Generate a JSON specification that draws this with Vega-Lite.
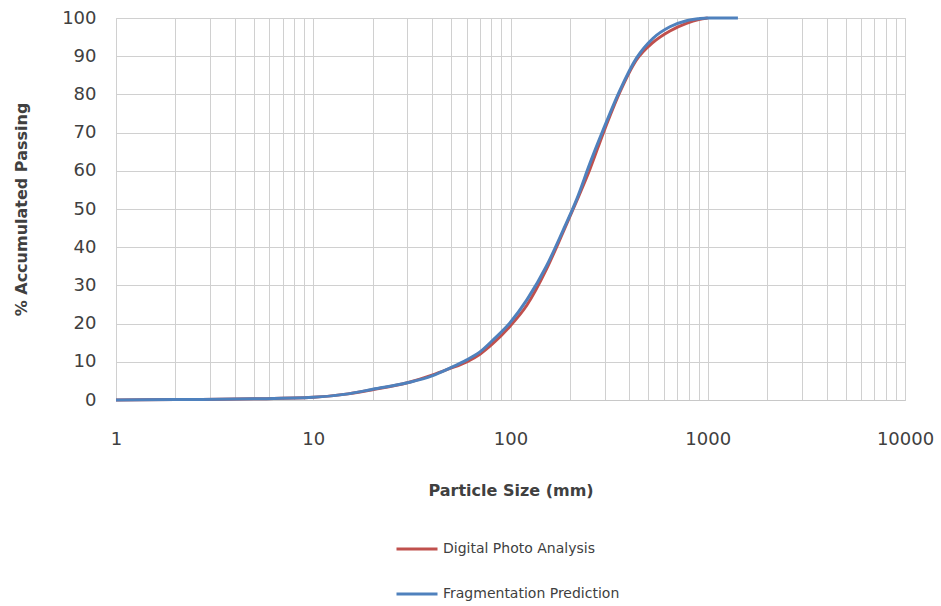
{
  "$schema": "https://vega.github.io/schema/vega-lite/v6.json",
  "autosize": {"type": "none"},
  "padding": {"left": 116, "top": 18, "right": 36, "bottom": 206},
  "width": 789,
  "height": 382,
  "background": "white",
  "data": {"values": [
    {"size": 1, "pct": 0.0, "series": "Digital Photo Analysis"},
    {"size": 2, "pct": 0.1, "series": "Digital Photo Analysis"},
    {"size": 5, "pct": 0.3, "series": "Digital Photo Analysis"},
    {"size": 10, "pct": 0.7, "series": "Digital Photo Analysis"},
    {"size": 15, "pct": 1.6, "series": "Digital Photo Analysis"},
    {"size": 20, "pct": 2.7, "series": "Digital Photo Analysis"},
    {"size": 30, "pct": 4.5, "series": "Digital Photo Analysis"},
    {"size": 40, "pct": 6.5, "series": "Digital Photo Analysis"},
    {"size": 49, "pct": 8.2, "series": "Digital Photo Analysis"},
    {"size": 60, "pct": 10.0, "series": "Digital Photo Analysis"},
    {"size": 70, "pct": 12.0, "series": "Digital Photo Analysis"},
    {"size": 81.5, "pct": 14.8, "series": "Digital Photo Analysis"},
    {"size": 99, "pct": 19.2, "series": "Digital Photo Analysis"},
    {"size": 121, "pct": 24.8, "series": "Digital Photo Analysis"},
    {"size": 152, "pct": 34.2, "series": "Digital Photo Analysis"},
    {"size": 185, "pct": 44.0, "series": "Digital Photo Analysis"},
    {"size": 216, "pct": 52.0, "series": "Digital Photo Analysis"},
    {"size": 253, "pct": 60.5, "series": "Digital Photo Analysis"},
    {"size": 295, "pct": 69.8, "series": "Digital Photo Analysis"},
    {"size": 358, "pct": 80.5, "series": "Digital Photo Analysis"},
    {"size": 435, "pct": 89.0, "series": "Digital Photo Analysis"},
    {"size": 528, "pct": 93.6, "series": "Digital Photo Analysis"},
    {"size": 643, "pct": 96.6, "series": "Digital Photo Analysis"},
    {"size": 780, "pct": 98.6, "series": "Digital Photo Analysis"},
    {"size": 900, "pct": 99.6, "series": "Digital Photo Analysis"},
    {"size": 1000, "pct": 100, "series": "Digital Photo Analysis"},
    {"size": 1, "pct": 0.0, "series": "Fragmentation Prediction"},
    {"size": 2, "pct": 0.1, "series": "Fragmentation Prediction"},
    {"size": 5, "pct": 0.3, "series": "Fragmentation Prediction"},
    {"size": 10, "pct": 0.7, "series": "Fragmentation Prediction"},
    {"size": 15, "pct": 1.6, "series": "Fragmentation Prediction"},
    {"size": 20, "pct": 2.8, "series": "Fragmentation Prediction"},
    {"size": 30, "pct": 4.5, "series": "Fragmentation Prediction"},
    {"size": 40, "pct": 6.3, "series": "Fragmentation Prediction"},
    {"size": 49, "pct": 8.3, "series": "Fragmentation Prediction"},
    {"size": 60, "pct": 10.5, "series": "Fragmentation Prediction"},
    {"size": 70, "pct": 12.6, "series": "Fragmentation Prediction"},
    {"size": 81.5, "pct": 15.7, "series": "Fragmentation Prediction"},
    {"size": 99, "pct": 20.1, "series": "Fragmentation Prediction"},
    {"size": 121, "pct": 26.2, "series": "Fragmentation Prediction"},
    {"size": 152, "pct": 35.0, "series": "Fragmentation Prediction"},
    {"size": 185, "pct": 44.5, "series": "Fragmentation Prediction"},
    {"size": 216, "pct": 52.4, "series": "Fragmentation Prediction"},
    {"size": 253, "pct": 62.0, "series": "Fragmentation Prediction"},
    {"size": 295, "pct": 70.7, "series": "Fragmentation Prediction"},
    {"size": 358, "pct": 81.0, "series": "Fragmentation Prediction"},
    {"size": 435, "pct": 89.5, "series": "Fragmentation Prediction"},
    {"size": 528, "pct": 94.7, "series": "Fragmentation Prediction"},
    {"size": 643, "pct": 97.7, "series": "Fragmentation Prediction"},
    {"size": 780, "pct": 99.3, "series": "Fragmentation Prediction"},
    {"size": 900, "pct": 99.8, "series": "Fragmentation Prediction"},
    {"size": 1000, "pct": 100, "series": "Fragmentation Prediction"},
    {"size": 1422, "pct": 100, "series": "Fragmentation Prediction"}
  ]},
  "mark": {"type": "line", "strokeWidth": 3, "interpolate": "monotone"},
  "encoding": {
    "x": {
      "field": "size", "type": "quantitative",
      "scale": {"type": "log", "domain": [1, 10000], "nice": false},
      "axis": {
        "title": "Particle Size (mm)",
        "values": [1,2,3,4,5,6,7,8,9,10,20,30,40,50,60,70,80,90,100,200,300,400,500,600,700,800,900,1000,2000,3000,4000,5000,6000,7000,8000,9000,10000],
        "labelExpr": "indexof([1,10,100,1000,10000], datum.value) >= 0 ? format(datum.value, 'd') : ''",
        "labelOverlap": false,
        "labelFlush": false,
        "labelPadding": 30,
        "titlePadding": 34,
        "ticks": false
      }
    },
    "y": {
      "field": "pct", "type": "quantitative",
      "scale": {"domain": [0, 100], "nice": false},
      "axis": {
        "title": "% Accumulated Passing",
        "values": [0,10,20,30,40,50,60,70,80,90,100],
        "labelPadding": 20,
        "labelFlush": false,
        "titlePadding": 32,
        "ticks": false,
        "domain": false
      }
    },
    "color": {
      "field": "series", "type": "nominal",
      "scale": {"domain": ["Digital Photo Analysis", "Fragmentation Prediction"], "range": ["#c0504d", "#4f81bd"]},
      "legend": {
        "title": null,
        "orient": "none",
        "legendX": 279,
        "legendY": 509,
        "direction": "vertical",
        "symbolType": "stroke",
        "symbolSize": 1681,
        "symbolStrokeWidth": 3,
        "labelOffset": 4,
        "rowPadding": 16,
        "labelFontSize": 14,
        "labelFont": "DejaVu Sans",
        "labelColor": "#404040",
        "labelLimit": 400
      }
    }
  },
  "config": {
    "view": {"stroke": "#d0d0d0", "strokeWidth": 1},
    "axis": {
      "grid": true,
      "gridColor": "#d0d0d0",
      "gridWidth": 1,
      "domainColor": "#c8c8c8",
      "labelFont": "DejaVu Sans",
      "labelFontSize": 18,
      "labelColor": "#404040",
      "titleFont": "DejaVu Sans",
      "titleFontSize": 16,
      "titleFontWeight": "bold",
      "titleColor": "#404040"
    }
  }
}
